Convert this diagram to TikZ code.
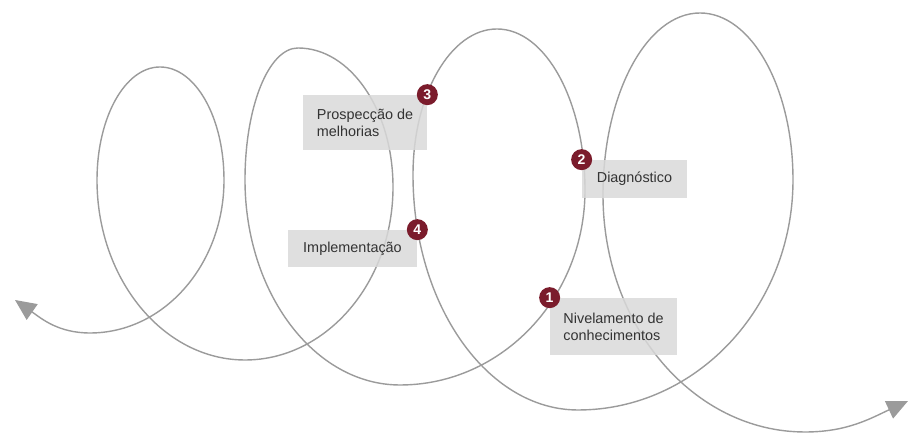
\documentclass[tikz,border=0pt]{standalone}
\usepackage{fontspec}
\setmainfont{Liberation Sans}
\usetikzlibrary{arrows.meta}
\definecolor{coilgray}{HTML}{9B9B9B}
\definecolor{stepred}{HTML}{7B1C2C}
\definecolor{boxgray}{HTML}{D9D9D9}

\begin{document}
\begin{tikzpicture}[
	stage/.style={fill=boxgray, fill opacity=0.85, text opacity=1, text=black!80, align=left, inner sep=0pt, font=\fontsize{8.2}{9.6}\selectfont},
	num/.style={circle, fill=stepred, text=white, minimum size=0.42cm, inner sep=0pt, font=\fontsize{8}{8}\selectfont\bfseries}]
	\useasboundingbox (0,0) rectangle (18.18,8.70);
	\coordinate (s) at (0.30,2.70);
	\coordinate (b0) at (1.80,2.04);
	\coordinate (r1) at (4.48,5.10);
	\coordinate (t1) at (3.20,7.36);
	\coordinate (l1) at (1.94,5.10);
	\coordinate (b1) at (4.90,1.50);
	\coordinate (r2) at (7.86,4.96);
	\coordinate (t2) at (5.96,7.74);
	\coordinate (l2) at (4.90,5.10);
	\coordinate (b2) at (8.00,1.00);
	\coordinate (r3) at (11.70,4.90);
	\coordinate (t3) at (9.94,8.12);
	\coordinate (l3) at (8.26,5.20);
	\coordinate (b3) at (11.56,0.50);
	\coordinate (r4) at (15.86,5.10);
	\coordinate (t4) at (14.00,8.44);
	\coordinate (l4) at (12.06,4.80);
	\coordinate (b4) at (16.10,0.06);
	\coordinate (e) at (18.16,0.68);
	\draw[coilgray, line width=0.8pt, arrows={Triangle[length=0.42cm,width=0.38cm]-Triangle[length=0.42cm,width=0.38cm]}]
		(s) to[out=-35,in=180] (b0)
		.. controls +(1.48,0) and +(0,-1.69) .. (r1) .. controls +(0,1.25) and +(0.71,0) .. (t1)
		.. controls +(-0.70,0) and +(0,1.25) .. (l1) .. controls +(0,-1.99) and +(-1.63,0) .. (b1)
		.. controls +(1.63,0) and +(0,-1.91) .. (r2) .. controls +(0,1.53) and +(1.05,0) .. (t2)
		.. controls +(-0.59,0) and +(0,1.46) .. (l2) .. controls +(0,-2.26) and +(-1.71,0) .. (b2)
		.. controls +(2.04,0) and +(0,-2.15) .. (r3) .. controls +(0,1.78) and +(0.97,0) .. (t3)
		.. controls +(-0.93,0) and +(0,1.61) .. (l3) .. controls +(0,-2.59) and +(-1.82,0) .. (b3)
		.. controls +(2.37,0) and +(0,-2.54) .. (r4) .. controls +(0,1.84) and +(1.03,0) .. (t4)
		.. controls +(-1.07,0) and +(0,2.01) .. (l4) .. controls +(0,-2.62) and +(-2.23,0) .. (b4)
		to[out=0,in=-155] (e);
	\node[stage, minimum width=2.48cm, minimum height=1.10cm] (prosp) at (7.30,6.25) {Prospecção de\\melhorias};
	\node[stage, minimum width=2.58cm, minimum height=0.74cm] (impl) at (7.05,3.73) {Implementação};
	\node[stage, minimum width=2.10cm, minimum height=0.76cm] (diag) at (12.69,5.12) {Diagnóstico};
	\node[stage, minimum width=2.54cm, minimum height=1.14cm] (nivel) at (12.27,2.17) {Nivelamento de\\conhecimentos};
	\node[num] (n1) at (nivel.north west) {1};
	\node[num] (n2) at (diag.north west) {2};
	\node[num] (n3) at (prosp.north east) {3};
	\node[num] (n4) at (impl.north east) {4};
\end{tikzpicture}
\end{document}
